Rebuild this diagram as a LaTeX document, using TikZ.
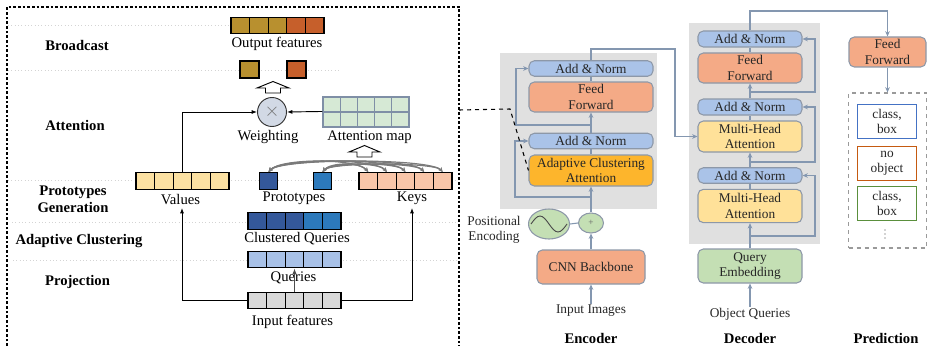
\documentclass[tikz,border=0pt]{standalone}
\usepackage{fontspec}
\setmainfont{Liberation Serif}
\usetikzlibrary{arrows.meta,shapes.geometric}

\definecolor{gold}{HTML}{B8902F}
\definecolor{rust}{HTML}{C65F2B}
\definecolor{valfill}{HTML}{FCE1A2}
\definecolor{keyfill}{HTML}{F8C5A8}
\definecolor{dblue}{HTML}{34589A}
\definecolor{mblue}{HTML}{2C79BB}
\definecolor{qfill}{HTML}{A8C1E7}
\definecolor{infill}{HTML}{D9D9D9}
\definecolor{amfill}{HTML}{D6E9D5}
\definecolor{amline}{HTML}{7F8FA6}
\definecolor{wfill}{HTML}{D2D9E5}
\definecolor{sepgray}{HTML}{D4D4D4}
\definecolor{arcgray}{HTML}{7A7A7A}
\definecolor{bggray}{HTML}{E0E0E0}
\definecolor{blkline}{HTML}{8D98A8}
\definecolor{lnk}{HTML}{8497B0}
\definecolor{anfill}{HTML}{AAC3E8}
\definecolor{ffill}{HTML}{F4AA86}
\definecolor{acafill}{HTML}{FDB52C}
\definecolor{mhafill}{HTML}{FFE199}
\definecolor{qefill}{HTML}{C4DFB4}
\definecolor{predgray}{HTML}{9A9A9A}
\definecolor{pblue}{HTML}{4472C4}
\definecolor{porange}{HTML}{C55A11}
\definecolor{pgreen}{HTML}{5A8F3C}

\begin{document}
\begin{tikzpicture}[x=0.75pt,y=0.75pt,yscale=-1,xscale=1,
    cell/.style={draw=black,line width=1pt,minimum width=13.95pt,minimum height=12.4pt,inner sep=0pt},
    amcell/.style={draw=amline,line width=0.8pt,fill=amfill,minimum width=12.9pt,minimum height=11.25pt,inner sep=0pt},
    lbl/.style={font=\fontsize{11}{12}\selectfont,inner sep=0.75pt},
    stage/.style={font=\fontsize{11}{13}\selectfont\bfseries,align=center,inner sep=0.75pt},
    divline/.style={draw=sepgray,dotted,line width=0.5pt},
    conn/.style={draw=black,line width=0.7pt,-{Latex[length=4pt,width=3pt]}},
    arcs/.style={draw=arcgray,line width=0.9pt,{Stealth[length=3.5pt,width=3pt]}-{Stealth[length=3.5pt,width=3pt]}},
    hollow/.style={draw=black,line width=0.7pt,fill=white},
    blk/.style={rounded corners=4pt,draw=blkline,line width=0.8pt,align=center,inner sep=0pt,text=black!85,font=\fontsize{10}{11.5}\selectfont},
    gconn/.style={draw=lnk,line width=0.8pt,-{Stealth[length=4pt,width=3.5pt]}},
    gline/.style={draw=lnk,line width=0.8pt},
    txt/.style={font=\fontsize{10}{11.5}\selectfont,align=center,inner sep=0.75pt,text=black!85},
    colhead/.style={font=\fontsize{11}{13}\selectfont\bfseries,inner sep=0.75pt}
]
    \useasboundingbox (0,0) rectangle (930,346);

    % dotted row separators
    \draw[divline] (8,25) -- (231,25) ;
    \draw[divline] (8,70) -- (340,70) ;
    \draw[divline] (8,180) -- (458,180) ;
    \draw[divline] (12,222) -- (458,222) ;
    \draw[divline] (13,260) -- (458,260) ;

    % left dashed frame
    \draw[dash pattern=on 2pt off 1.5pt,line width=0.8pt] (7,346) -- (7,7) -- (459,7) -- (459,346) ;

    % stage names
    \node[stage] (bc) at (77,45) {Broadcast};
    \node[stage] (att) at (75,125) {Attention};
    \node[stage] (pg) at (73,199.5) {Prototypes\\Generation};
    \node[stage] (ac) at (79,241) {Adaptive Clustering};
    \node[stage] (pj) at (77.5,282) {Projection};

    % Output features
    \node[cell,fill=gold] (o1) at (240.3,25.5) {};
    \node[cell,fill=gold] (o2) at (258.9,25.5) {};
    \node[cell,fill=gold] (o3) at (277.5,25.5) {};
    \node[cell,fill=rust] (o4) at (296.1,25.5) {};
    \node[cell,fill=rust] (o5) at (314.7,25.5) {};
    \node[lbl] (ol) at (277,44) {Output features};

    % single features
    \node[cell,fill=gold,minimum width=14.25pt,minimum height=12.75pt] (s1) at (249.5,69.5) {};
    \node[cell,fill=rust,minimum width=14.25pt,minimum height=12.75pt] (s2) at (296.5,69.5) {};

    % hollow arrows
    \draw[hollow] (257,88) -- (273,81.5) -- (289,88) -- (280.5,88) -- (280.5,93) -- (265.5,93) -- (265.5,88) -- cycle ;
    \draw[hollow] (349,152) -- (364.5,145.5) -- (380,152) -- (372,152) -- (372,157) -- (357,157) -- (357,152) -- cycle ;

    % Weighting
    \node[circle,draw=black!80,line width=0.7pt,fill=wfill,minimum size=21.75pt,inner sep=0pt,font=\Large,text=black!55] (wt) at (272,112) {$\times$};
    \node[lbl] (wl) at (268,137) {Weighting};

    % Attention map
    \node[amcell] (a1) at (331.6,104.5) {};
    \node[amcell] (a2) at (348.8,104.5) {};
    \node[amcell] (a3) at (366,104.5) {};
    \node[amcell] (a4) at (383.2,104.5) {};
    \node[amcell] (a5) at (400.4,104.5) {};
    \node[amcell] (a6) at (331.6,119.5) {};
    \node[amcell] (a7) at (348.8,119.5) {};
    \node[amcell] (a8) at (366,119.5) {};
    \node[amcell] (a9) at (383.2,119.5) {};
    \node[amcell] (a10) at (400.4,119.5) {};
    \node[lbl] (al) at (369.5,137) {Attention map};

    % Values
    \node[cell,fill=valfill] (v1) at (145.3,181) {};
    \node[cell,fill=valfill] (v2) at (163.9,181) {};
    \node[cell,fill=valfill] (v3) at (182.5,181) {};
    \node[cell,fill=valfill] (v4) at (201.1,181) {};
    \node[cell,fill=valfill] (v5) at (219.7,181) {};
    \node[lbl] (vl) at (180.5,200) {Values};

    % Prototypes
    \node[cell,fill=dblue] (p1) at (268.5,181) {};
    \node[cell,fill=mblue] (p2) at (322.5,181) {};
    \node[lbl] (pl) at (294,198) {Prototypes};

    % Keys
    \node[cell,fill=keyfill] (k1) at (368.3,181) {};
    \node[cell,fill=keyfill] (k2) at (386.9,181) {};
    \node[cell,fill=keyfill] (k3) at (405.5,181) {};
    \node[cell,fill=keyfill] (k4) at (424.1,181) {};
    \node[cell,fill=keyfill] (k5) at (442.7,181) {};
    \node[lbl] (kl) at (412,198) {Keys};

    % Clustered Queries
    \node[cell,fill=dblue] (c1) at (257.3,221) {};
    \node[cell,fill=dblue] (c2) at (275.9,221) {};
    \node[cell,fill=dblue] (c3) at (294.5,221) {};
    \node[cell,fill=mblue] (c4) at (313.1,221) {};
    \node[cell,fill=mblue] (c5) at (331.7,221) {};
    \node[lbl] (cl) at (297,239) {Clustered Queries};

    % Queries
    \node[cell,fill=qfill] (q1) at (257.3,259.5) {};
    \node[cell,fill=qfill] (q2) at (275.9,259.5) {};
    \node[cell,fill=qfill] (q3) at (294.5,259.5) {};
    \node[cell,fill=qfill] (q4) at (313.1,259.5) {};
    \node[cell,fill=qfill] (q5) at (331.7,259.5) {};
    \node[lbl] (ql) at (293.5,278) {Queries};

    % Input features
    \node[cell,fill=infill] (i1) at (257.3,300.5) {};
    \node[cell,fill=infill] (i2) at (275.9,300.5) {};
    \node[cell,fill=infill] (i3) at (294.5,300.5) {};
    \node[cell,fill=infill] (i4) at (313.1,300.5) {};
    \node[cell,fill=infill] (i5) at (331.7,300.5) {};
    \node[lbl] (il) at (292.5,322) {Input features};

    % left connectors
    \coordinate (vin) at (182,208) ;
    \coordinate (kin) at (412,208) ;
    \draw[conn] (i1.west) -| (vin) ;
    \draw[conn] (i5.east) -| (kin) ;
    \draw[conn,draw=black!70] (i3.north) -- (q3.south) ;
    \draw[conn] (v3.north) |- (wt.west) ;
    \draw[conn] (a6.north west) -- (wt.east) ;

    % prototype to key arcs
    \draw[arcs] (p1.north) .. controls +(12,-14) and +(-12,-14) .. (k1.north) ;
    \draw[arcs] (p1.north) .. controls +(12,-14) and +(-12,-14) .. (k2.north) ;
    \draw[arcs] (p1.north) .. controls +(12,-14) and +(-12,-14) .. (k3.north) ;
    \draw[arcs] (p1.north) .. controls +(12,-14) and +(-12,-14) .. (k4.north) ;
    \draw[arcs] (p1.north) .. controls +(12,-14) and +(-12,-14) .. (k5.north) ;
    \draw[arcs] (p2.north) .. controls +(8,-10) and +(-8,-10) .. (k1.north) ;
    \draw[arcs] (p2.north) .. controls +(8,-10) and +(-8,-10) .. (k2.north) ;
    \draw[arcs] (p2.north) .. controls +(8,-10) and +(-8,-10) .. (k3.north) ;
    \draw[arcs] (p2.north) .. controls +(8,-10) and +(-8,-10) .. (k4.north) ;
    \draw[arcs] (p2.north) .. controls +(8,-10) and +(-8,-10) .. (k5.north) ;

    % Encoder
    \fill[bggray] (500,53) rectangle (657,209) ;
    \node[blk,fill=anfill,minimum width=93pt,minimum height=11.6pt] (ean1) at (591,68.5) {Add \& Norm};
    \node[blk,fill=ffill,minimum width=93pt,minimum height=22.5pt] (eff) at (591,97) {Feed\\Forward};
    \node[blk,fill=anfill,minimum width=93pt,minimum height=11.6pt] (ean2) at (591,141) {Add \& Norm};
    \node[blk,fill=acafill,minimum width=93pt,minimum height=23.25pt] (eaca) at (591,170.5) {Adaptive Clustering\\Attention};
    \node[ellipse,draw=blkline,line width=0.8pt,fill=qefill,minimum width=30.75pt,minimum height=22.5pt,inner sep=0pt] (pe) at (549,224) {};
    \draw[black!70,line width=0.7pt] (531,224) sin (540,216) cos (549,224) sin (558,232) cos (567,224) ;
    \node[ellipse,draw=blkline,line width=0.8pt,fill=qefill,minimum width=18.75pt,minimum height=15pt,inner sep=0pt,font=\scriptsize,text=black!60] (plus) at (591,223) {+};
    \node[txt] (pel) at (494,229.5) {Positional\\Encoding};
    \node[blk,fill=ffill,minimum width=81pt,minimum height=25.5pt] (cnn) at (591,267) {CNN Backbone};
    \node[txt] (img) at (591,311) {Input Images};
    \node[colhead] (enc) at (591,338) {Encoder};

    \draw[gconn] (img.north) -- (cnn.south) ;
    \draw[gconn] (cnn.north) -- (plus.south) ;
    \draw[gline] (pe.east) -- (plus.west) ;
    \draw[gconn] (plus.north) -- (eaca.south) ;
    \coordinate (er1) at (591,197) ;
    \draw[gconn] (er1) -- ++(-76,0) |- (ean2.west) ;
    \draw[gline] (eaca.north) -- (ean2.south) ;
    \draw[gconn] (ean2.north) -- (eff.south) ;
    \coordinate (er2) at (591,125) ;
    \draw[gconn] (er2) -- ++(-75,0) |- (ean1.west) ;
    \draw[gline] (eff.north) -- (ean1.south) ;

    % Decoder
    \fill[bggray] (689,23) rectangle (820,244) ;
    \node[blk,fill=anfill,minimum width=78pt,minimum height=12pt] (dan1) at (750,39) {Add \& Norm};
    \node[blk,fill=ffill,minimum width=78pt,minimum height=22.5pt] (dff) at (750,68) {Feed\\Forward};
    \node[blk,fill=anfill,minimum width=78pt,minimum height=12pt] (dan2) at (750,107) {Add \& Norm};
    \node[blk,fill=mhafill,minimum width=78pt,minimum height=23.25pt] (dmha2) at (750,136.5) {Multi-Head\\Attention};
    \node[blk,fill=anfill,minimum width=78pt,minimum height=11.6pt] (dan3) at (750,175.5) {Add \& Norm};
    \node[blk,fill=mhafill,minimum width=78pt,minimum height=25pt] (dmha3) at (750,206) {Multi-Head\\Attention};
    \node[blk,fill=qefill,minimum width=78pt,minimum height=25.5pt] (dqe) at (750,266) {Query\\Embedding};
    \node[txt] (oq) at (750,314) {Object Queries};
    \node[colhead] (dec) at (750,338) {Decoder};

    \draw[gconn] (oq.north) -- (dqe.south) ;
    \draw[gconn] (dqe.north) -- (dmha3.south) ;
    \coordinate (dr1) at (750,236) ;
    \draw[gconn] (dr1) -- ++(65,0) |- (dan3.east) ;
    \draw[gline] (dmha3.north) -- (dan3.south) ;
    \draw[gconn] (dan3.north) -- (dmha2.south) ;
    \coordinate (dr2) at (750,162) ;
    \draw[gconn] (dr2) -- ++(65,0) |- (dan2.east) ;
    \draw[gline] (dmha2.north) -- (dan2.south) ;
    \draw[gconn] (dan2.north) -- (dff.south) ;
    \coordinate (dr3) at (750,92) ;
    \draw[gconn] (dr3) -- ++(65,0) |- (dan1.east) ;
    \draw[gline] (dff.north) -- (dan1.south) ;

    % encoder output into decoder
    \coordinate (eo) at (675,49) ;
    \draw[gconn] (ean1.north) |- (eo) |- (dmha2.west) ;

    % Prediction
    \node[blk,fill=ffill,minimum width=57.75pt,minimum height=22.5pt] (pff) at (887.5,52) {Feed\\Forward};
    \node[draw=predgray,dashed,line width=0.8pt,minimum width=58.5pt,minimum height=116.25pt,inner sep=0pt] (pbox) at (887.5,170.5) {};
    \node[txt,draw=pblue,line width=0.9pt,minimum width=44.25pt,minimum height=25.5pt] (pc1) at (887,121.5) {class,\\box};
    \node[txt,draw=porange,line width=0.9pt,minimum width=44.25pt,minimum height=26pt] (pc2) at (887,163.5) {no\\object};
    \node[txt,draw=pgreen,line width=0.9pt,minimum width=44.25pt,minimum height=26pt] (pc3) at (887,203.5) {class,\\box};
    % vertical ellipsis
    \fill[black!75] (885,230) circle (0.6) (885,234) circle (0.6) (885,238) circle (0.6) ;
    \node[colhead] (pred) at (886,338) {Prediction};

    \coordinate (dout) at (887.5,11) ;
    \draw[gconn] (dan1.north) |- (dout) -- (pff.north) ;
    \draw[gconn] (pff.south) -- (pbox.north) ;

    % link from left panel
    \coordinate (lp) at (459,110) ;
    \draw[dashed,line width=0.8pt] (lp) -- (510,109) -- (eaca.west) ;

\end{tikzpicture}
\end{document}
